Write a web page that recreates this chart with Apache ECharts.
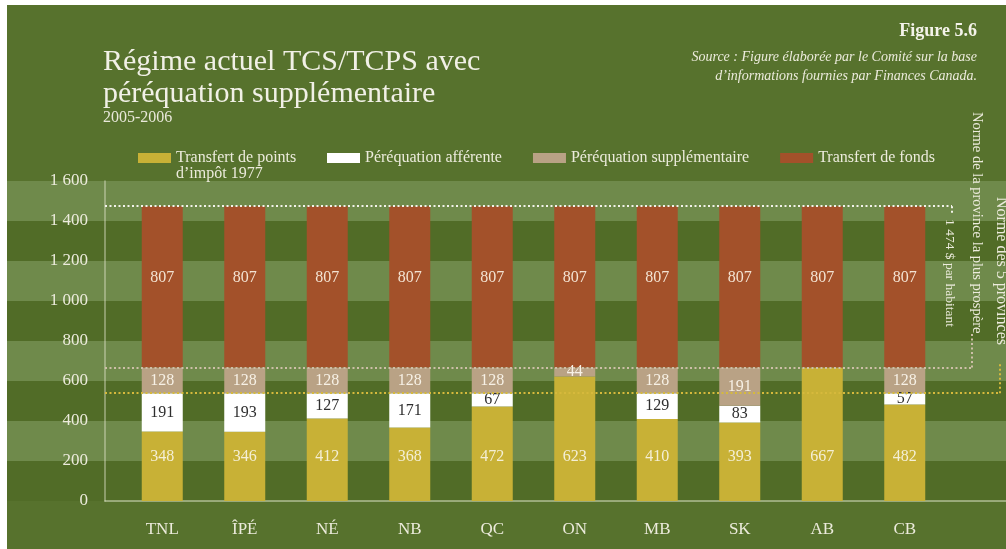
<!DOCTYPE html>
<html>
<head>
<meta charset="utf-8">
<script src="https://cdn.jsdelivr.net/npm/echarts@6/dist/echarts.min.js"></script>
<style>
  html, body { margin: 0; padding: 0; background: #ffffff; }
  #chart { width: 1006px; height: 549px; }
</style>
</head>
<body>
<div id="chart"></div>
<script>
// provinces
var categories = ['TNL', 'ÎPÉ', 'NÉ', 'NB', 'QC', 'ON', 'MB', 'SK', 'AB', 'CB'];
// $ par habitant, par composante (du bas vers le haut)
var pointsImpot = [348, 346, 412, 368, 472, 623, 410, 393, 667, 482];
var perequationAfferente = [191, 193, 127, 171, 67, 0, 129, 83, 0, 57];
var perequationSupp = [128, 128, 128, 128, 128, 44, 128, 191, 0, 128];
var transfertFonds = [807, 807, 807, 807, 807, 807, 807, 807, 807, 807];
// normes
var normeRiche = 1474;
var normeProvRiche = 667;
var norme5 = 539;
var yTicks = [0, 200, 400, 600, 800, 1000, 1200, 1400, 1600];

var FONT = 'Liberation Serif';
var txt = '#ecebdc';

function fmtNum(v) {
  if (v >= 1000) {
    var r = String(v % 1000);
    while (r.length < 3) r = '0' + r;
    return Math.floor(v / 1000) + ' ' + r;
  }
  return String(v);
}
function hideZero(p) { return p.value ? String(p.value) : ''; }

var chart = echarts.init(document.getElementById('chart'));

var names = ['Transfert de points\nd’impôt 1977', 'Péréquation afférente',
  'Péréquation supplémentaire', 'Transfert de fonds'];

function barSeries(name, data, color, labelColor, labelOpt) {
  return {
    name: name,
    type: 'bar',
    stack: 'total',
    xAxisIndex: 0,
    yAxisIndex: 0,
    barWidth: 41,
    data: data,
    itemStyle: { color: color },
    label: Object.assign({
      show: true,
      position: 'inside',
      color: labelColor,
      fontFamily: FONT,
      fontSize: 16,
      formatter: hideZero
    }, labelOpt || {})
  };
}

var dot = function (color) {
  return { color: color, width: 2, type: [2, 2.5], opacity: 1 };
};

var series = [
  barSeries(names[0], pointsImpot, '#c8b136', '#f4efd6', { position: 'insideBottom', distance: 36 }),
  barSeries(names[1], perequationAfferente, '#ffffff', '#2e2e2e'),
  barSeries(names[2], perequationSupp, '#b9a285', '#f7f1e6'),
  barSeries(names[3], transfertFonds, '#a3512a', '#f3e3d3', { offset: [0, -9] })
];

series[3].markLine = {
  silent: true,
  symbol: 'none',
  label: { show: false },
  animation: false,
  data: [
    [{ coord: [0, normeRiche], x: 105, lineStyle: dot('#f2f2ea') }, { coord: [0, normeRiche], x: 952 }],
    [{ coord: [0, normeRiche], x: 952, lineStyle: dot('#f2f2ea') }, { coord: [0, 1430], x: 952 }],
    [{ coord: [0, normeProvRiche], x: 105, lineStyle: dot('#cdbfa8') }, { coord: [0, normeProvRiche], x: 972 }],
    [{ coord: [0, normeProvRiche], x: 972, lineStyle: dot('#cdbfa8') }, { coord: [0, 835], x: 972 }],
    [{ coord: [0, norme5], x: 105, lineStyle: dot('#d6b93c') }, { coord: [0, norme5], x: 1000 }],
    [{ coord: [0, norme5], x: 1000, lineStyle: dot('#d6b93c') }, { coord: [0, 690], x: 1000 }]
  ]
};

var option = {
  backgroundColor: '#57722d',
  animation: false,
  title: [
    {
      text: 'Régime actuel TCS/TCPS avec\npéréquation supplémentaire',
      subtext: '2005-2006',
      left: 103,
      top: 46,
      padding: 0,
      itemGap: 0,
      textStyle: { color: '#f1f0e6', fontFamily: FONT, fontSize: 30, fontWeight: 'normal', lineHeight: 32 },
      subtextStyle: { color: '#e9e8da', fontFamily: FONT, fontSize: 16, lineHeight: 15 }
    },
    {
      text: 'Figure 5.6',
      subtext: 'Source : Figure élaborée par le Comité sur la base\nd’informations fournies par Finances Canada.',
      left: 977,
      top: 22,
      padding: 0,
      itemGap: 7,
      textAlign: 'right',
      textStyle: { color: '#f4f3ea', fontFamily: FONT, fontSize: 18, fontWeight: 'bold', lineHeight: 19 },
      subtextStyle: { color: '#ecebdc', fontFamily: FONT, fontSize: 14, fontStyle: 'italic', lineHeight: 19 }
    }
  ],
  legend: [
    {
      data: [names[0]],
      left: 138,
      top: 134,
      padding: 0,
      icon: 'rect',
      itemWidth: 33,
      itemHeight: 10,
      selectedMode: false,
      // ligne vide en tête : la 1re ligne du texte reste alignée sur la pastille
      formatter: function (n) { return '\n' + n; },
      textStyle: { color: txt, fontFamily: FONT, fontSize: 16, lineHeight: 16 }
    },
    {
      data: names.slice(1),
      left: 327,
      top: 150,
      padding: 0,
      icon: 'rect',
      itemWidth: 33,
      itemHeight: 10,
      itemGap: 31,
      selectedMode: false,
      textStyle: { color: txt, fontFamily: FONT, fontSize: 16, lineHeight: 16 }
    }
  ],
  grid: [
    { left: 121, right: 60, top: 181, bottom: 48 },
    { left: 7, right: 0, top: 181, bottom: 48 },
    { left: 105, right: 0, top: 181, bottom: 48 }
  ],
  xAxis: [
    {
      gridIndex: 0,
      type: 'category',
      data: categories,
      axisLine: { show: false },
      axisTick: { show: false },
      axisLabel: { color: txt, fontFamily: FONT, fontSize: 17, margin: 20 }
    },
    { gridIndex: 1, type: 'value', show: false },
    {
      gridIndex: 2,
      type: 'value',
      axisLine: { show: true, onZero: false, lineStyle: { color: 'rgba(225,230,205,0.65)', width: 1.5 } },
      axisTick: { show: false },
      axisLabel: { show: false },
      splitLine: { show: false }
    }
  ],
  yAxis: [
    {
      gridIndex: 0,
      type: 'value',
      min: yTicks[0],
      max: yTicks[yTicks.length - 1],
      interval: 200,
      offset: 16,
      axisLine: { show: true, lineStyle: { color: 'rgba(225,230,205,0.55)', width: 1.5 } },
      axisTick: { show: false },
      splitLine: { show: false },
      axisLabel: {
        color: txt, fontFamily: FONT, fontSize: 17, margin: 17,
        padding: [9, 0, 0, 0],
        formatter: fmtNum
      }
    },
    {
      gridIndex: 1,
      type: 'value',
      min: yTicks[0],
      max: yTicks[yTicks.length - 1],
      interval: 200,
      axisLine: { show: false },
      axisTick: { show: false },
      axisLabel: { show: false },
      splitLine: { show: false },
      splitArea: { show: true, areaStyle: { color: ['#516c27', '#6f8a4b'] } }
    },
    { gridIndex: 2, type: 'value', show: false }
  ],
  graphic: [
    { type: 'rect', left: 0, top: 0, shape: { width: 1006, height: 5 }, style: { fill: '#ffffff' }, z: 100 },
    { type: 'rect', left: 0, top: 0, shape: { width: 7, height: 549 }, style: { fill: '#ffffff' }, z: 100 },
    {
      type: 'text', x: 977, y: 112, rotation: -Math.PI / 2, z: 50,
      style: { text: 'Norme de la province la plus prospère', fill: txt, font: '14.5px "Liberation Serif"', align: 'left', verticalAlign: 'middle' }
    },
    {
      type: 'text', x: 1001, y: 197, rotation: -Math.PI / 2, z: 50,
      style: { text: 'Norme des 5 provinces', fill: txt, font: '16px "Liberation Serif"', align: 'left', verticalAlign: 'middle' }
    },
    {
      type: 'text', x: 950, y: 219, rotation: -Math.PI / 2, z: 50,
      style: { text: '1 474 $ par habitant', fill: txt, font: '13.5px "Liberation Serif"', align: 'left', verticalAlign: 'middle' }
    }
  ],
  series: series
};

chart.setOption(option);
</script>
</body>
</html>
